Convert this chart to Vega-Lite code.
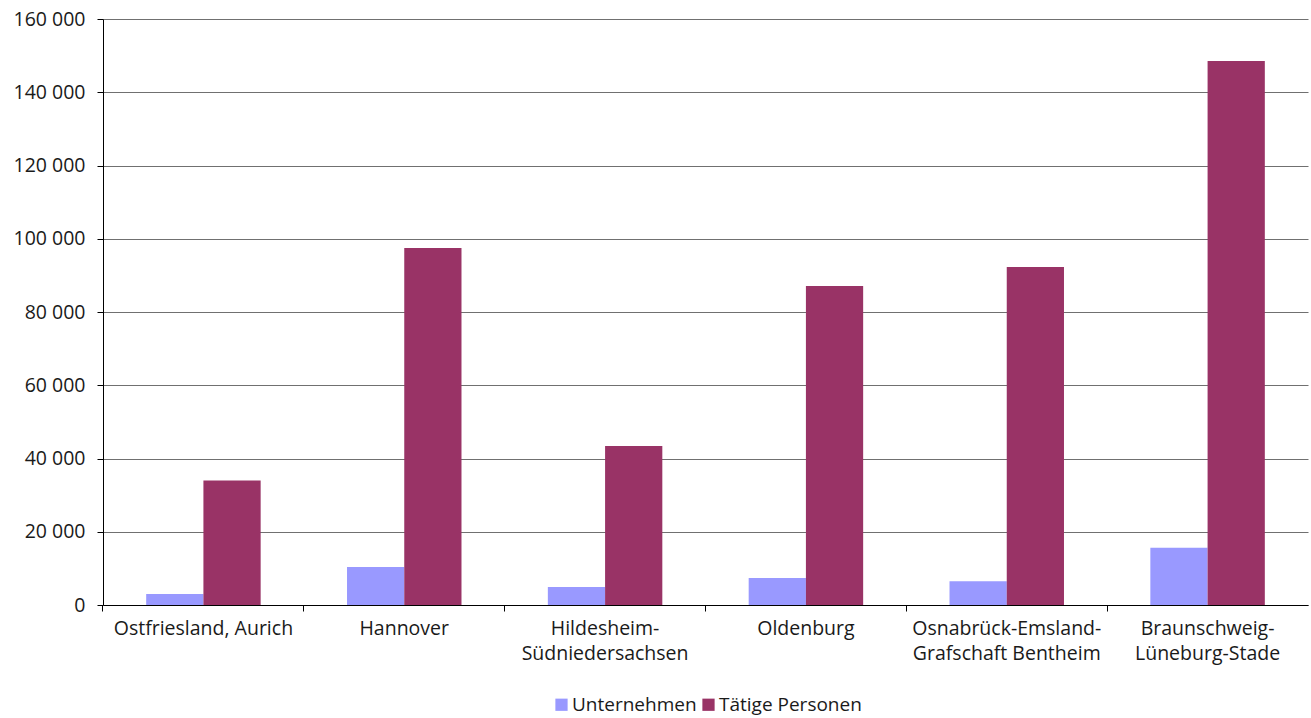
{
  "$schema": "https://vega.github.io/schema/vega-lite/v6.json",
  "width": 1205,
  "height": 586,
  "autosize": {"type": "none"},
  "padding": {"left": 103, "top": 19, "right": 3, "bottom": 113},
  "background": "white",
  "config": {
    "font": "Open Sans",
    "view": {"stroke": null},
    "axis": {"labelFont": "Open Sans", "labelFontSize": 19.5, "labelColor": "#1a1a1a"},
    "legend": {"labelFont": "Open Sans", "labelFontSize": 19, "labelColor": "#1a1a1a"}
  },
  "data": {
    "values": [
      {"region": "Ostfriesland, Aurich", "serie": "Unternehmen", "wert": 3000},
      {"region": "Ostfriesland, Aurich", "serie": "Tätige Personen", "wert": 34000},
      {"region": "Hannover", "serie": "Unternehmen", "wert": 10400},
      {"region": "Hannover", "serie": "Tätige Personen", "wert": 97500},
      {"region": "Hildesheim-|Südniedersachsen", "serie": "Unternehmen", "wert": 4900},
      {"region": "Hildesheim-|Südniedersachsen", "serie": "Tätige Personen", "wert": 43400},
      {"region": "Oldenburg", "serie": "Unternehmen", "wert": 7400},
      {"region": "Oldenburg", "serie": "Tätige Personen", "wert": 87100},
      {"region": "Osnabrück-Emsland-|Grafschaft Bentheim", "serie": "Unternehmen", "wert": 6500},
      {"region": "Osnabrück-Emsland-|Grafschaft Bentheim", "serie": "Tätige Personen", "wert": 92300},
      {"region": "Braunschweig-|Lüneburg-Stade", "serie": "Unternehmen", "wert": 15600},
      {"region": "Braunschweig-|Lüneburg-Stade", "serie": "Tätige Personen", "wert": 148500}
    ]
  },
  "mark": {"type": "bar"},
  "encoding": {
    "x": {
      "field": "region",
      "type": "nominal",
      "sort": null,
      "scale": {"paddingInner": 0.43, "paddingOuter": 0.215},
      "axis": {
        "title": null,
        "labelAngle": 0,
        "labelExpr": "split(datum.label, '|')",
        "labelLineHeight": 25,
        "labelPadding": 8,
        "labelBaseline": "top",
        "labelLimit": 400,
        "labelOverlap": false,
        "bandPosition": -0.3772,
        "tickSize": 6,
        "tickColor": "#000000",
        "domainColor": "#000000",
        "grid": false
      }
    },
    "xOffset": {
      "field": "serie",
      "type": "nominal",
      "sort": ["Unternehmen", "Tätige Personen"]
    },
    "y": {
      "field": "wert",
      "type": "quantitative",
      "scale": {"domain": [0, 160000], "nice": false},
      "axis": {
        "title": null,
        "values": [0, 20000, 40000, 60000, 80000, 100000, 120000, 140000, 160000],
        "labelExpr": "replace(format(datum.value, ','), ',', ' ')",
        "labelPadding": 12,
        "tickSize": 6,
        "tickColor": "#000000",
        "domainColor": "#000000",
        "gridColor": "#707070",
        "gridOpacity": 1
      }
    },
    "color": {
      "field": "serie",
      "type": "nominal",
      "sort": ["Unternehmen", "Tätige Personen"],
      "scale": {"domain": ["Unternehmen", "Tätige Personen"], "range": ["#9999FF", "#993366"]},
      "legend": {
        "title": null,
        "orient": "none",
        "legendX": 449,
        "legendY": 676,
        "direction": "horizontal",
        "symbolType": "square",
        "symbolSize": 150,
        "symbolOpacity": 1,
        "symbolStrokeWidth": 0,
        "labelOffset": 1,
        "columnPadding": 2
      }
    }
  }
}
